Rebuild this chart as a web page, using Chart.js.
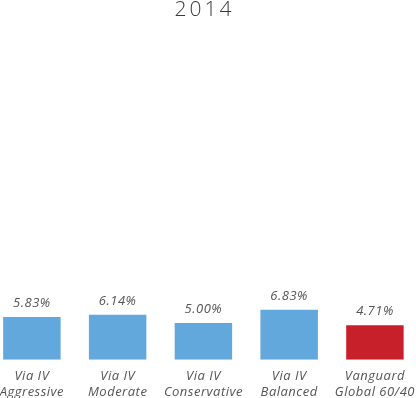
<!DOCTYPE html>
<html>
<head>
<meta charset="utf-8">
<script src="https://cdn.jsdelivr.net/npm/chart.js"></script>
<style>
  html, body { margin: 0; padding: 0; background: #fff; overflow: hidden; }
  #wrap { width: 416px; height: 398px; position: relative; overflow: hidden; }
  #myChart { position: absolute; left: -11px; top: -3px; }
</style>
</head>
<body>
<div id="wrap"><canvas id="myChart" width="431" height="412"></canvas></div>
<script>
// data
const chartTitle = '2014';
const categories = [
  ['Via IV', 'Aggressive'],
  ['Via IV', 'Moderate'],
  ['Via IV', 'Conservative'],
  ['Via IV', 'Balanced'],
  ['Vanguard', 'Global 60/40']
];
const returns = [5.83, 6.14, 5.00, 6.83, 4.71];
const barColors = ['#62a8dc', '#62a8dc', '#62a8dc', '#62a8dc', '#c8202a'];

const textGrey = '#555555';
const fontFam = '"Open Sans", "DejaVu Sans", sans-serif';

// title gets wide spacing, the rest a little
const spacing = {
  id: 'spacing',
  beforeDraw(chart) { chart.ctx.letterSpacing = '3px'; },
  beforeDatasetsDraw(chart) { chart.ctx.letterSpacing = '0.5px'; },
  afterDraw(chart) { chart.ctx.letterSpacing = '0px'; }
};

// draws the value above each bar
const valueLabels = {
  id: 'valueLabels',
  afterDatasetsDraw(chart) {
    const c = chart.ctx;
    const meta = chart.getDatasetMeta(0);
    c.save();
    c.fillStyle = textGrey;
    c.font = 'italic 13px ' + fontFam;
    c.textAlign = 'center';
    c.textBaseline = 'bottom';
    meta.data.forEach((bar, i) => {
      c.fillText(returns[i].toFixed(2) + '%', bar.x, bar.y - 7);
    });
    c.restore();
  }
};

const chartCtx = document.getElementById('myChart').getContext('2d');
const myChart = new Chart(chartCtx, {
  type: 'bar',
  data: {
    labels: categories,
    datasets: [{
      data: returns,
      backgroundColor: barColors,
      borderWidth: 0,
      categoryPercentage: 1,
      barPercentage: 0.67
    }]
  },
  options: {
    responsive: false,
    animation: false,
    layout: { padding: 0 },
    plugins: {
      legend: { display: false },
      tooltip: { enabled: false },
      title: {
        display: true,
        text: chartTitle,
        color: '#3a3a3a',
        font: { family: fontFam, size: 21, weight: 300 },
        padding: { top: 0, bottom: 8 }
      }
    },
    scales: {
      x: {
        grid: { display: false, drawTicks: false },
        border: { display: false },
        ticks: {
          z: 1,
          color: textGrey,
          font: { family: fontFam, size: 13, style: 'italic', lineHeight: 1.28 },
          padding: 8,
          maxRotation: 0,
          autoSkip: false
        }
      },
      y: {
        display: false,
        min: 0,
        max: 45
      }
    }
  },
  plugins: [spacing, valueLabels]
});
</script>
</body>
</html>
